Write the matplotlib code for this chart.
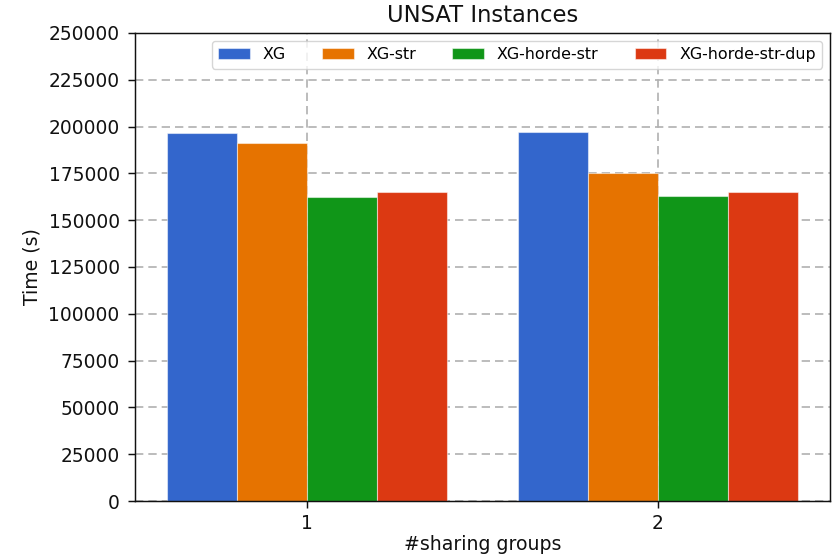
import matplotlib
matplotlib.use("Agg")
import matplotlib.pyplot as plt
import numpy as np

groups = ["1", "2"]
series = ["XG", "XG-str", "XG-horde-str", "XG-horde-str-dup"]
xg = [196800, 197000]
xg_str = [191100, 175400]
xg_horde_str = [162600, 162800]
xg_horde_str_dup = [165200, 164900]
colors = ["#3366CC", "#E67300", "#109618", "#DC3912"]
yticks = [0, 25000, 50000, 75000, 100000, 125000, 150000, 175000, 200000, 225000, 250000]

values = [xg, xg_str, xg_horde_str, xg_horde_str_dup]

plt.rcParams["font.family"] = ["DejaVu Sans"]
fig = plt.figure(figsize=(8.33, 5.57), dpi=100)
ax = fig.add_axes([0.162, 0.1005, 0.8344, 0.8403])

x = np.arange(1, len(groups) + 1)
w = 0.2
for i, (name, vals, c) in enumerate(zip(series, values, colors)):
    ax.bar(x + (i - 1.5) * w, vals, w, label=name, color=c,
           edgecolor=(1, 1, 1, 0.5), linewidth=0.8, zorder=2)

ax.set_xticks(x)
ax.set_xticklabels(groups)
ax.set_yticks(yticks)
ax.set_ylim(0, 250000)
ax.tick_params(labelsize=13.4, colors="#111111", length=5, width=1.05)
ax.tick_params(axis="y", pad=6)
ax.tick_params(axis="x", pad=4.5)
ax.grid(True, linestyle=(0, (5, 3)), color="#b0b0b0", linewidth=1.2, zorder=0)
ax.set_axisbelow(True)
for s in ax.spines.values():
    s.set_color("#111111")
    s.set_linewidth(1.05)
ax.set_title("UNSAT Instances", fontsize=16.3, color="#111111", pad=8)
ax.set_xlabel("#sharing groups", fontsize=13.6, color="#111111", labelpad=1)
ax.set_ylabel("Time (s)", fontsize=13.6, color="#111111", labelpad=5)
ax.legend(ncol=4, loc="upper right", fontsize=11.4, columnspacing=2.3)

fig.savefig("out.png", dpi=100)
